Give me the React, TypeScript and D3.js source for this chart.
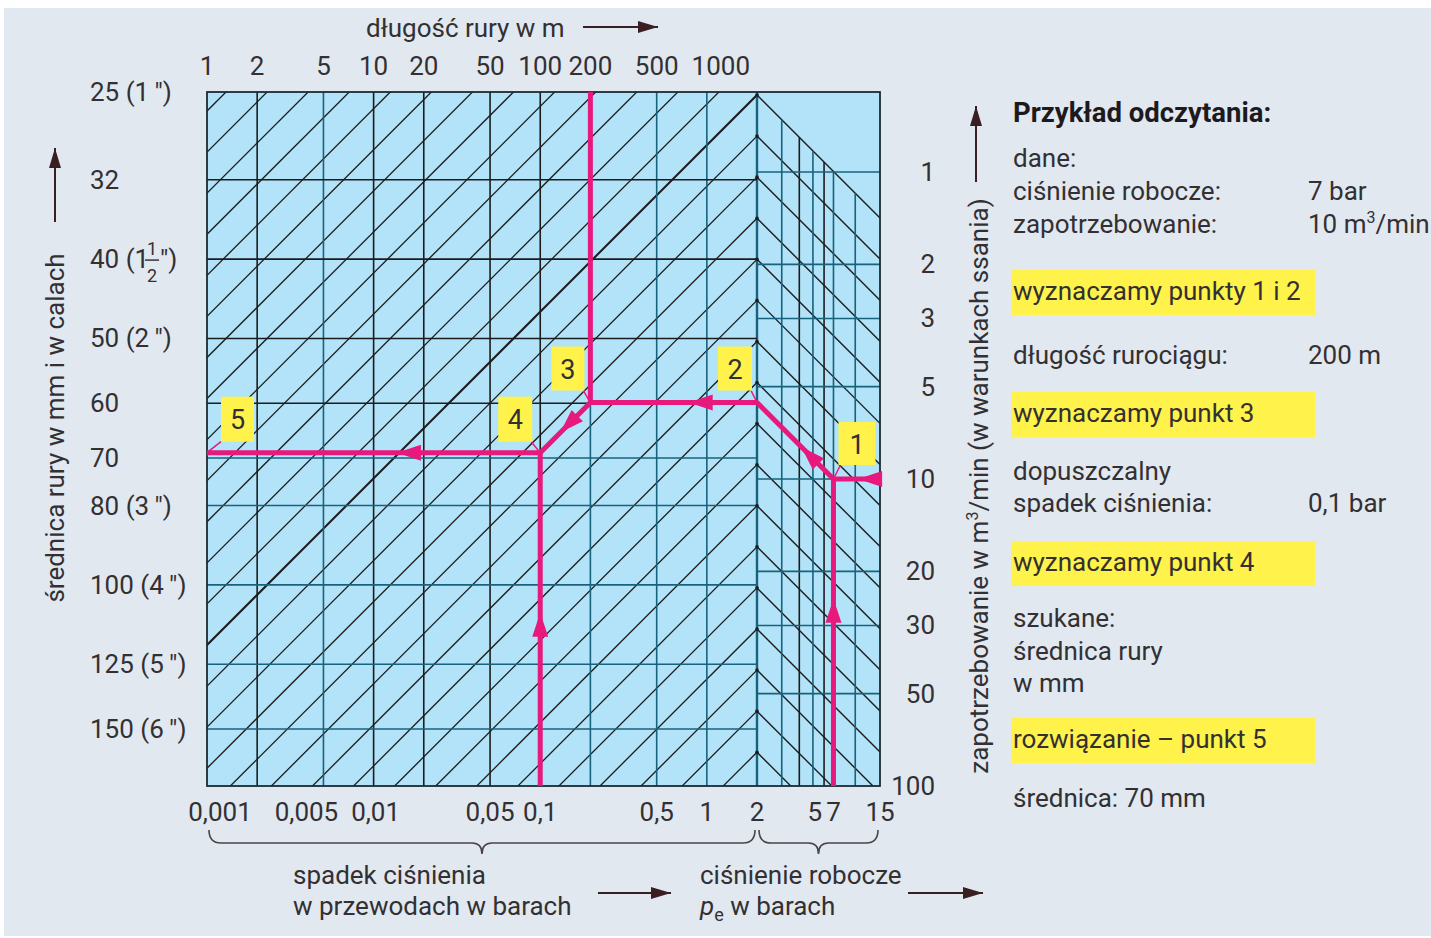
import React from 'react';
import * as d3 from 'd3';

// ---- data ----
const lengthTicks = [1, 2, 5, 10, 20, 50, 100, 200, 500, 1000];
const lengthLines = [2, 5, 10, 20, 50, 100, 200, 500, 1000, 2000];
const lengthLineTeal = [false, true, false, false, false, false, true, true, true, true];
const dropValues = [0.001, 0.005, 0.01, 0.05, 0.1, 0.5, 1, 2];
const dropLabels = ['0,001', '0,005', '0,01', '0,05', '0,1', '0,5', '1', '2'];
const pressureTicks = [5, 7, 15];
const pressureLines = [3, 4, 5, 6, 7, 10];
const pressureLineTeal = [true, false, true, false, true, true];
const flowTicks = [1, 2, 3, 5, 10, 20, 30, 50, 100];
const flowLines = [1, 2, 3, 5, 10, 20, 30, 50];
const diameterTicks = [25, 32, 40, 50, 60, 70, 80, 100, 125, 150];
const diameterInch = ['1', '', 'frac', '2', '', '', '3', '4', '5', '6'];
const diameterLines = [32, 40, 50, 60, 70, 80, 100, 125, 150];
const diameterLineTeal = [false, false, false, false, true, true, true, true, true];

const exPressure = 7;
const exFlow = 10;
const exLength = 200;
const exDrop = 0.1;

const FONT = 'Roboto, "Liberation Sans", sans-serif';
const PINK = '#e8197d';
const TEAL = '#17627d';
const BLACK = '#1c1c1c';
const TXT = '#333033';
const YEL = '#fff24a';

// ---- geometry / scales ----
const L = 207, M = 757, R = 880, T = 92, B = 786;
const xLen = d3.scaleLog().domain([1, 2000]).range([L, M]);
const xDrop = d3.scaleLog().domain([0.001, 2]).range([L, M]);
const xP = d3.scaleLog().domain([2, 15]).range([M, R]);
const yFlow = d3.scaleLog().domain([1, 100]).range([172, B]);
const yD = d3.scaleLog().domain([25, 150]).range([T, 729]);

// diagonal family: step in log-flow units
const diagStep = 0.1338; // decades
const apexTopFlow = yFlow.invert(95);
const apexY = (k: number) => yFlow(apexTopFlow * Math.pow(10, k * diagStep));

function arrowHead(x1: number, y1: number, x2: number, y2: number, t: number, len = 24, w = 16) {
  const dx = x2 - x1, dy = y2 - y1;
  const d = Math.hypot(dx, dy);
  const ux = dx / d, uy = dy / d;
  const tx = x1 + dx * t, ty = y1 + dy * t;
  const bx = tx - ux * len, by = ty - uy * len;
  const px = -uy * w / 2, py = ux * w / 2;
  return `M${tx},${ty}L${bx + px},${by + py}L${bx - px},${by - py}Z`;
}

function brace(x1: number, x2: number, y: number) {
  const m = (x1 + x2) / 2;
  return `M${x1},${y - 13} Q${x1},${y} ${x1 + 12},${y} L${m - 10},${y} Q${m},${y} ${m},${y + 11} Q${m},${y} ${m + 10},${y} L${x2 - 12},${y} Q${x2},${y} ${x2},${y - 13}`;
}

function BlackArrow({ x1, y1, x2, y2 }: { x1: number; y1: number; x2: number; y2: number }) {
  return (
    <g>
      <line x1={x1} y1={y1} x2={x2} y2={y2} stroke="#3a1f22" strokeWidth={2} />
      <path d={arrowHead(x1, y1, x2, y2, 1, 20, 12)} fill="#3a1f22" />
    </g>
  );
}

export default function App() {
  // example path
  const p1x = xP(exPressure), p1y = yFlow(exFlow);
  const p2x = M, p2y = p1y - (p1x - M);
  const p3x = xLen(exLength), p3y = p2y;
  const p4x = xDrop(exDrop), p4y = p3y + (p3x - p4x);
  const p5x = L, p5y = p4y;

  const ksLeft = d3.range(-14, 18);
  const ksRight = d3.range(0, 17);

  const labelBoxes = [
    { n: '1', px: p1x, py: p1y, bx: p1x + 5, by: p1y - 57, w: 37, h: 43, lx: p1x + 7, ly: p1y - 14 },
    { n: '2', px: p2x, py: p2y, bx: p2x - 39, by: p2y - 56, w: 34, h: 44, lx: p2x - 6, ly: p2y - 12 },
    { n: '3', px: p3x, py: p3y, bx: p3x - 39, by: p3y - 56, w: 33, h: 44, lx: p3x - 7, ly: p3y - 12 },
    { n: '4', px: p4x, py: p4y, bx: p4x - 42, by: p4y - 56, w: 34, h: 45, lx: p4x - 9, ly: p4y - 11 },
    { n: '5', px: p5x, py: p5y, bx: p5x + 14, by: p5y - 56, w: 33, h: 45, lx: p5x + 14, ly: p5y - 11 },
  ];

  const rightRows: { t: string; y: number; v?: React.ReactNode; bold?: boolean }[] = [
    { t: 'Przykład odczytania:', y: 122, bold: true },
    { t: 'dane:', y: 167 },
    { t: 'ciśnienie robocze:', y: 200, v: <tspan>{exPressure} bar</tspan> },
    { t: 'zapotrzebowanie:', y: 233, v: <><tspan>{exFlow} m</tspan><tspan dy={-10} fontSize={16}>3</tspan><tspan dy={10}>/min</tspan></> },
    { t: 'długość rurociągu:', y: 364, v: <tspan>{exLength} m</tspan> },
    { t: 'dopuszczalny', y: 480 },
    { t: 'spadek ciśnienia:', y: 512, v: <tspan>0,1 bar</tspan> },
    { t: 'szukane:', y: 627 },
    { t: 'średnica rury', y: 660 },
    { t: 'w mm', y: 692 },
    { t: 'średnica: 70 mm', y: 807 },
  ];
  const yellowRows = [
    { t: 'wyznaczamy punkty 1 i 2', y: 270 },
    { t: 'wyznaczamy punkt 3', y: 392 },
    { t: 'wyznaczamy punkt 4', y: 541 },
    { t: 'rozwiązanie – punkt 5', y: 718 },
  ];

  return (
    <svg width={1431} height={938} style={{ position: 'absolute', left: 0, top: 0, background: '#fff' }} fontFamily={FONT}>
      <defs>
        <clipPath id="leftClip"><rect x={L} y={T} width={M - L} height={B - T} /></clipPath>
        <clipPath id="rightClip"><rect x={M} y={T} width={R - M} height={B - T} /></clipPath>
      </defs>
      <rect x={4} y={8} width={1427} height={928} fill="#e1e8f0" />
      <rect x={L} y={T} width={R - L} height={B - T} fill="#b2e3f8" />

      {/* left panel grid */}
      <g clipPath="url(#leftClip)">
        {ksLeft.map(k => {
          const c = M + apexY(k);
          return <line key={'dl' + k} x1={c + 1000} y1={-1000} x2={c - 2000} y2={2000}
            stroke={BLACK} strokeWidth={k === 0 ? 2 : 1.3} />;
        })}
      </g>
      {lengthLines.map((v, i) => (
        <line key={'vl' + v} x1={xLen(v)} y1={T} x2={xLen(v)} y2={B}
          stroke={lengthLineTeal[i] ? TEAL : BLACK} strokeWidth={v === 2000 ? 2.4 : 1.6} />
      ))}
      {diameterLines.map((v, i) => (
        <line key={'hl' + v} x1={L} y1={yD(v)} x2={M} y2={yD(v)}
          stroke={diameterLineTeal[i] ? TEAL : BLACK} strokeWidth={1.6} />
      ))}

      {/* right panel grid */}
      <g clipPath="url(#rightClip)">
        {ksRight.map(k => {
          const y0 = apexY(k);
          return <line key={'dr' + k} x1={M} y1={y0} x2={M + 1000} y2={y0 + 1000} stroke={BLACK} strokeWidth={1.4} />;
        })}
        {pressureLines.map((v, i) => {
          const x = xP(v);
          return <line key={'vp' + v} x1={x} y1={apexY(0) + (x - M)} x2={x} y2={B}
            stroke={pressureLineTeal[i] ? TEAL : BLACK} strokeWidth={1.6} />;
        })}
        {flowLines.map(v => (
          <line key={'hf' + v} x1={M} y1={yFlow(v)} x2={R} y2={yFlow(v)} stroke={TEAL} strokeWidth={1.6} />
        ))}
      </g>
      {ksRight.map(k => <circle key={'ap' + k} cx={M} cy={apexY(k)} r={1.8} fill={BLACK} />)}
      <rect x={L} y={T} width={R - L} height={B - T} fill="none" stroke="#1b2a33" strokeWidth={1.8} />

      {/* example path */}
      <g stroke={PINK} strokeWidth={5} fill="none" strokeLinejoin="round">
        <polyline points={`${p1x},${B} ${p1x},${p1y}`} />
        <polyline points={`${R},${p1y} ${p1x},${p1y} ${p2x},${p2y} ${p3x},${p3y} ${p4x},${p4y} ${p5x},${p5y}`} />
        <polyline points={`${p3x},${T} ${p3x},${p3y}`} />
        <polyline points={`${p4x},${B} ${p4x},${p4y}`} />
      </g>
      <g fill={PINK}>
        <path d={arrowHead(R, p1y, p1x, p1y, 0.47)} />
        <path d={arrowHead(p1x, B, p1x, p1y, 0.61)} />
        <path d={arrowHead(p1x, p1y, p2x, p2y, 0.42)} />
        <path d={arrowHead(p2x, p2y, p3x, p3y, 0.41)} />
        <path d={arrowHead(p3x, p3y, p4x, p4y, 0.6)} />
        <path d={arrowHead(p4x, B, p4x, p4y, 0.52)} />
        <path d={arrowHead(p4x, p4y, p5x, p5y, 0.43)} />
      </g>
      {labelBoxes.map(b => (
        <g key={'lb' + b.n}>
          <line x1={b.lx} y1={b.ly} x2={b.px} y2={b.py} stroke={PINK} strokeWidth={1.5} />
          <rect x={b.bx} y={b.by} width={b.w} height={b.h} fill={YEL} />
          <text x={b.bx + b.w / 2} y={b.by + b.h / 2 + 10} textAnchor="middle" fontSize={27} fill={TXT}>{b.n}</text>
        </g>
      ))}

      {/* top axis */}
      <text x={366} y={37} fontSize={26} fill={TXT}>długość rury w m</text>
      <BlackArrow x1={583} y1={27} x2={658} y2={27} />
      {lengthTicks.map(v => (
        <text key={'lt' + v} x={xLen(v) + (v === 1000 ? 14 : 0)} y={75} textAnchor="middle" fontSize={26} fill={TXT}>{v}</text>
      ))}

      {/* bottom axis */}
      {dropValues.map((v, i) => (
        <text key={'dt' + v} x={xDrop(v) + (i === 0 ? 13 : i === 1 ? -17 : i === 2 ? 2 : 0)} y={821} textAnchor="middle" fontSize={26} fill={TXT}>{dropLabels[i]}</text>
      ))}
      {pressureTicks.map(v => (
        <text key={'pt' + v} x={xP(v) + (v === 5 ? 2 : 0)} y={821} textAnchor="middle" fontSize={26} fill={TXT}>{v}</text>
      ))}
      <path d={brace(L + 2, M - 2, 843)} stroke="#4a4446" strokeWidth={1.6} fill="none" />
      <path d={brace(M + 2, R - 2, 843)} stroke="#4a4446" strokeWidth={1.6} fill="none" />
      <text x={293} y={884} fontSize={26} fill={TXT}>spadek ciśnienia</text>
      <text x={293} y={915} fontSize={26} fill={TXT}>w przewodach w barach</text>
      <BlackArrow x1={598} y1={893} x2={671} y2={893} />
      <text x={700} y={884} fontSize={26} fill={TXT}>ciśnienie robocze</text>
      <text x={700} y={915} fontSize={26} fill={TXT}>
        <tspan fontStyle="italic">p</tspan><tspan dy={6} fontSize={18}>e</tspan><tspan dy={-6}> w barach</tspan>
      </text>
      <BlackArrow x1={908} y1={893} x2={983} y2={893} />

      {/* left axis */}
      {diameterTicks.map((v, i) => {
        const y = yD(v) + 9;
        const inch = diameterInch[i];
        if (inch === 'frac') {
          return (
            <g key={'dd' + v} fill={TXT}>
              <text x={90} y={y} fontSize={26}>40 (1</text>
              <text x={152} y={y - 13} fontSize={18} textAnchor="middle">1</text>
              <line x1={145} y1={y - 8} x2={159} y2={y - 8} stroke={TXT} strokeWidth={1.5} />
              <text x={152} y={y + 14} fontSize={18} textAnchor="middle">2</text>
              <text x={160} y={y} fontSize={26}>″)</text>
            </g>
          );
        }
        return (
          <text key={'dd' + v} x={90} y={y} fontSize={26} fill={TXT}>{inch ? `${v} (${inch}\u2009″)` : `${v}`}</text>
        );
      })}
      <text transform="translate(64,428) rotate(-90)" textAnchor="middle" fontSize={26} fill={TXT}>średnica rury w mm i w calach</text>
      <BlackArrow x1={55} y1={222} x2={55} y2={148} />

      {/* right axis */}
      {flowTicks.map(v => (
        <text key={'ft' + v} x={935} y={yFlow(v) + 9} textAnchor="end" fontSize={26} fill={TXT}>{v}</text>
      ))}
      <text transform="translate(988,486) rotate(-90)" textAnchor="middle" fontSize={26} fill={TXT}>
        zapotrzebowanie w m<tspan dy={-10} fontSize={16}>3</tspan><tspan dy={10}>/min (w warunkach ssania)</tspan>
      </text>
      <BlackArrow x1={976} y1={182} x2={976} y2={106} />

      {/* explanation */}
      {yellowRows.map(r => (
        <g key={r.t}>
          <rect x={1011} y={r.y} width={304} height={45} fill={YEL} />
          <text x={1013} y={r.y + 30} fontSize={26} fill={TXT}>{r.t}</text>
        </g>
      ))}
      {rightRows.map(r => (
        <g key={r.t}>
          <text x={1013} y={r.y} fontSize={r.bold ? 27.5 : 26} fill={r.bold ? '#1e1a1c' : TXT} fontWeight={r.bold ? 700 : 400}>{r.t}</text>
          {r.v && <text x={1308} y={r.y} fontSize={26} fill={TXT}>{r.v}</text>}
        </g>
      ))}
    </svg>
  );
}
